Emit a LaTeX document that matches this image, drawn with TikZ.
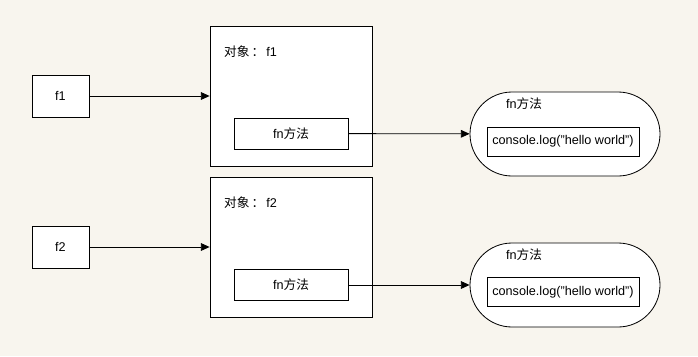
\documentclass[tikz,border=0pt]{standalone}
\usepackage{fontspec}
\setmainfont{Liberation Sans}
\newfontfamily\cjk{Noto Sans CJK SC}
\usepackage{xcolor}
\usetikzlibrary{positioning,arrows.meta}
\definecolor{paper}{RGB}{248,245,238}

\begin{document}
\begin{tikzpicture}[
          x=0.03cm, y=-0.03cm,
          font=\fontsize{10.8}{13}\selectfont,
          var/.style={draw, fill=white, line width=0.7pt, minimum width=1.71cm, minimum height=1.26cm, inner sep=0pt},
          obj/.style={draw, fill=white, line width=0.7pt, minimum width=4.86cm, minimum height=4.2cm, inner sep=0pt},
          meth/.style={draw, fill=white, line width=0.7pt, minimum width=3.42cm, minimum height=0.93cm, inner sep=0pt},
          func/.style={draw, fill=white, line width=0.7pt, rounded corners=1.26cm, minimum width=5.7cm, minimum height=2.52cm, inner sep=0pt},
          body/.style={draw, fill=white, line width=0.7pt, minimum width=4.56cm, minimum height=0.87cm, inner sep=0pt},
          arr/.style={-{Triangle[length=2.6mm, width=2.3mm]}, line width=0.7pt}
      ]
        \fill[paper] (0,0) rectangle (698,356);
        \useasboundingbox (0,0) rectangle (698,356);
        % first object
        \node[var] (f1) at (60.5,96) {f1};
        \node[obj] (o1) at (291,96) {};
        \node[anchor=west] (t1) at (220,52) {{\cjk 对象\,：\,}f1};
        \node[meth] (m1) at (291,133.5) {fn{\cjk 方法}};
        \node[func] (r1) at (565,134) {};
        \node (l1) at (524,104) {fn{\cjk 方法}};
        \node[body] (c1) at (563,141.5) {console.log("hello world")};
        % second object
        \node[var] (f2) at (60.5,247) {f2};
        \node[obj] (o2) at (291,247) {};
        \node[anchor=west] (t2) at (220,203) {{\cjk 对象\,：\,}f2};
        \node[meth] (m2) at (291,285) {fn{\cjk 方法}};
        \node[func] (r2) at (565,285) {};
        \node (l2) at (524,255) {fn{\cjk 方法}};
        \node[body] (c2) at (563,292) {console.log("hello world")};
        \draw[arr] (f1) -- (o1);
        \draw[arr] (m1) -- (r1);
        \draw[arr] (f2) -- (o2);
        \draw[arr] (m2) -- (r2);
      \end{tikzpicture}
\end{document}
